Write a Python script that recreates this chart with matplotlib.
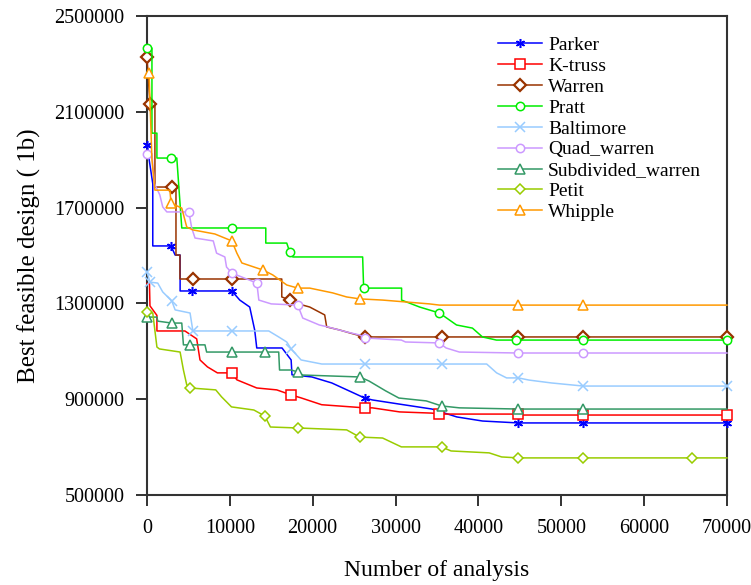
import matplotlib
matplotlib.use("Agg")
import matplotlib.pyplot as plt

# ---------------- data ----------------
x_ticks = [0, 10000, 20000, 30000, 40000, 50000, 60000, 70000]
x_ticklabels = ["0", "10000", "20000", "30000", "40000", "50000", "60000", "70000"]
y_ticks = [500000, 900000, 1300000, 1700000, 2100000, 2500000]
y_ticklabels = ["500000", "900000", "1300000", "1700000", "2100000", "2500000"]

parker_x = [0, 700, 700, 2900, 3400, 4000, 4000, 5420, 10240, 11200, 12400, 13000, 13250, 16300,
            17400, 17500, 19900, 22300, 24700, 26270, 27200, 30400, 34400, 37400, 40500, 44830, 52660, 70000]
parker_y = [1961000, 1800000, 1540000, 1540000, 1502000, 1502000, 1352000, 1352000, 1352000, 1314000,
            1285000, 1189000, 1114000, 1114000, 1064000, 1002000, 993000, 968000, 930000, 905000, 897000,
            880000, 859000, 826000, 809000, 801000, 801000, 801000]
parker_marks = [0, 3, 7, 8, 19, 25, 26, 27]

ktruss_x = [0, 300, 360, 1200, 1200, 4580, 6000, 6400, 7300, 8500, 10240, 10850, 13250, 15660, 17400,
            18560, 21090, 26270, 27200, 30500, 34400, 35300, 44830, 45500, 52660, 70000]
ktruss_y = [1383000, 1383000, 1290000, 1250000, 1185000, 1185000, 1152000, 1064000, 1035000, 1010000,
            1010000, 981000, 947000, 939000, 918000, 906000, 877000, 864000, 864000, 847000, 842000,
            838000, 838000, 834000, 834000, 834000]
ktruss_marks = [10, 14, 17, 21, 22, 24, 25]

warren_x = [0, 360, 960, 960, 3000, 3500, 3500, 3980, 3980, 5540, 10240, 16270, 16270, 17230, 18800,
            19640, 21450, 21690, 23260, 24460, 26270, 35550, 44830, 52660, 70000]
warren_y = [2329000, 2133000, 2133000, 1786000, 1786000, 1786000, 1502000, 1502000, 1402000, 1402000,
            1402000, 1402000, 1327000, 1314000, 1293000, 1285000, 1252000, 1202000, 1189000, 1177000,
            1160000, 1160000, 1160000, 1160000, 1160000]
warren_marks = [0, 1, 4, 9, 10, 13, 20, 21, 22, 23, 24]

pratt_x = [0, 600, 600, 1200, 1200, 2900, 3600, 4200, 10240, 14340, 14340, 16870, 17230, 17600, 26030,
           26150, 30730, 30730, 32900, 35300, 37360, 39280, 40490, 42180, 44500, 52600, 70000]
pratt_y = [2366000, 2366000, 2011000, 2011000, 1907000, 1907000, 1907000, 1615000, 1615000, 1615000,
           1552000, 1552000, 1515000, 1494000, 1494000, 1364000, 1364000, 1314000, 1285000, 1260000,
           1210000, 1197000, 1160000, 1147000, 1147000, 1147000, 1147000]
pratt_marks = [0, 5, 8, 12, 15, 19, 24, 25, 26]

balt_x = [0, 360, 1300, 1900, 3000, 3400, 5200, 5540, 10240, 14700, 15900, 16870, 17400, 18600, 21100,
          26270, 35550, 41000, 42200, 43400, 44830, 46100, 48800, 52660, 70000]
balt_y = [1431000, 1389000, 1385000, 1348000, 1310000, 1273000, 1260000, 1185000, 1185000, 1185000,
          1160000, 1139000, 1110000, 1064000, 1047000, 1047000, 1047000, 1047000, 1010000, 989000,
          989000, 980000, 968000, 955000, 955000]
balt_marks = [0, 1, 4, 7, 8, 12, 15, 16, 20, 23, 24]

quad_x = [0, 600, 900, 1550, 1900, 2400, 5060, 5400, 5800, 8000, 8400, 9400, 9600, 10240, 13260, 13500,
          15000, 18200, 18800, 20800, 21800, 24100, 25700, 26270, 30700, 31200, 35300, 36100, 37700,
          44830, 52660, 70000]
quad_y = [1925000, 1925000, 1800000, 1753000, 1703000, 1682000, 1682000, 1615000, 1573000, 1561000,
          1510000, 1494000, 1452000, 1427000, 1385000, 1314000, 1298000, 1293000, 1239000, 1210000,
          1202000, 1181000, 1168000, 1156000, 1147000, 1139000, 1135000, 1114000, 1097000, 1093000,
          1093000, 1093000]
quad_marks = [0, 6, 13, 14, 17, 23, 26, 29, 30]

subd_x = [0, 1200, 1300, 3000, 4200, 4400, 5200, 7000, 7200, 10240, 14220, 15900, 16000, 17400, 18200,
          18800, 25670, 26800, 28800, 30400, 33700, 35550, 37700, 44830, 52660, 70000]
subd_y = [1243000, 1243000, 1226000, 1218000, 1218000, 1127000, 1127000, 1127000, 1097000, 1097000,
          1097000, 1097000, 1022000, 1022000, 1014000, 1001000, 993000, 976000, 935000, 905000, 893000,
          872000, 864000, 859000, 859000, 859000]
subd_marks = [0, 3, 6, 9, 10, 14, 16, 21, 23, 24]

petit_x = [0, 700, 1200, 1500, 4000, 4400, 4800, 5200, 8300, 9000, 10200, 12900, 14220, 14900, 18200,
           24100, 25670, 28440, 30700, 35550, 36700, 41300, 42800, 44830, 52660, 65800, 70000]
petit_y = [1264000, 1260000, 1118000, 1110000, 1097000, 1022000, 960000, 947000, 939000, 910000, 868000,
           855000, 830000, 784000, 780000, 772000, 742000, 738000, 701000, 701000, 684000, 676000,
           659000, 655000, 655000, 655000, 655000]
petit_marks = [0, 7, 12, 14, 16, 19, 23, 24, 25]

whip_x = [250, 600, 960, 2770, 2900, 4200, 4800, 5540, 8190, 10240, 10850, 11450, 13260, 13980, 15180,
          16870, 18200, 19640, 22410, 24100, 25670, 28440, 34100, 35300, 44830, 52660, 70000]
whip_y = [2262000, 1900000, 1773000, 1773000, 1719000, 1698000, 1619000, 1607000, 1590000, 1561000,
          1510000, 1469000, 1448000, 1440000, 1419000, 1377000, 1364000, 1364000, 1344000, 1327000,
          1319000, 1314000, 1298000, 1293000, 1293000, 1293000, 1293000]
whip_marks = [0, 4, 9, 13, 16, 20, 24, 25]

series = [
    ("Parker", parker_x, parker_y, parker_marks, "#0000FF", (6, 2, 0), 6.5, 1.1),
    ("K-truss", ktruss_x, ktruss_y, ktruss_marks, "#FF0000", "s", 6.5, 1.1),
    ("Warren", warren_x, warren_y, warren_marks, "#993300", "D", 6, 1.6),
    ("Pratt", pratt_x, pratt_y, pratt_marks, "#00EE00", "o", 6, 1.1),
    ("Baltimore", balt_x, balt_y, balt_marks, "#99CCFF", "x", 6.5, 1.1),
    ("Quad_warren", quad_x, quad_y, quad_marks, "#CC99FF", "o", 6, 1.1),
    ("Subdivided_warren", subd_x, subd_y, subd_marks, "#339966", "^", 6.5, 1.1),
    ("Petit", petit_x, petit_y, petit_marks, "#99CC00", "D", 5.5, 1.1),
    ("Whipple", whip_x, whip_y, whip_marks, "#FF9900", "^", 6.5, 1.1),
]

plt.rcParams['font.family'] = ['Liberation Serif', 'DejaVu Serif']

fig = plt.figure(figsize=(7.51, 5.85), dpi=100)
ax = fig.add_axes([0.1957, 0.1538, 0.7723, 0.8188])

for name, xs, ys, marks, col, mk, ms, mew in series:
    ax.plot(xs, ys, color=col, lw=1.1, marker=mk, markevery=marks, ms=ms,
            mfc="white", mec=col, mew=mew, label=name, clip_on=False, zorder=3)

ax.set_xlim(0, 70000)
ax.set_ylim(500000, 2500000)
ax.set_xticks(x_ticks)
ax.set_xticklabels(x_ticklabels)
ax.set_yticks(y_ticks)
ax.set_yticklabels(y_ticklabels)
ax.tick_params(axis="both", direction="out", length=8, width=1.3, colors="#222222",
               labelsize=14.5, labelcolor="black")
ax.tick_params(axis="x", pad=9)
ax.tick_params(axis="y", pad=8)
for s in ax.spines.values():
    s.set_linewidth(1.5)
    s.set_color("#333333")

ax.set_xlabel("Number of analysis", fontsize=17, labelpad=16)
ax.set_ylabel("Best feasible design ( 1b)", fontsize=18, labelpad=10)

leg = ax.legend(loc="upper left", bbox_to_anchor=(0.591, 0.974), frameon=False, fontsize=14,
                handlelength=2.3, handletextpad=0.3, labelspacing=0.17, borderaxespad=0)

fig.savefig("out.png", dpi=100)
